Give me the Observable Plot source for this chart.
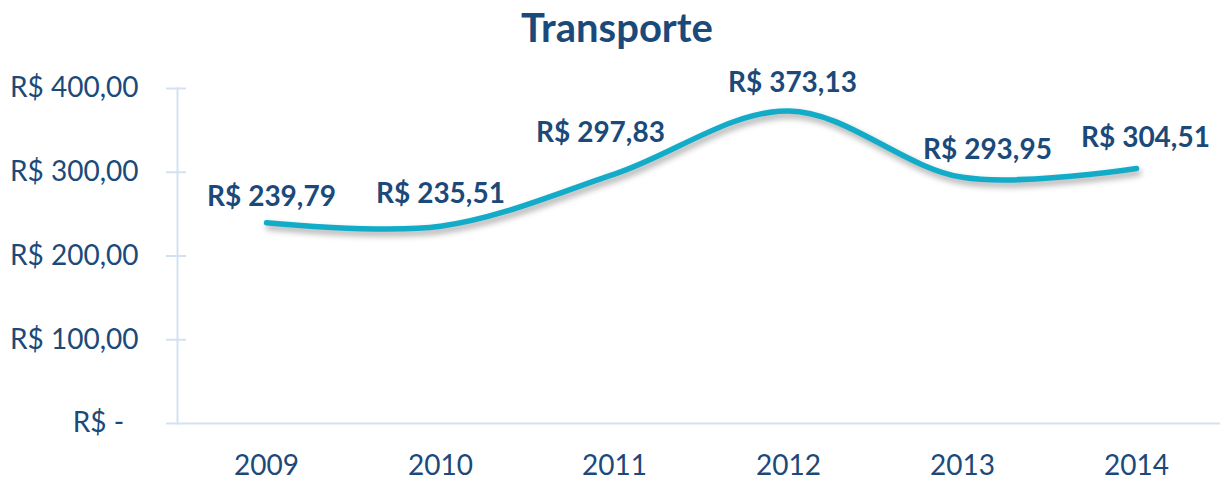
<!DOCTYPE html>
<html>
<head>
<meta charset="utf-8">
<script src="https://cdn.jsdelivr.net/npm/d3@7"></script>
<script src="https://cdn.jsdelivr.net/npm/@observablehq/plot@0.6"></script>
<style>
  html, body { margin: 0; padding: 0; background: #fff; }
  #title {
    width: 1220px; height: 55px; line-height: 55px;
    font-family: Lato, "Open Sans", sans-serif; font-weight: 700; font-size: 40px;
    color: #1B4A7A; text-align: center; box-sizing: border-box; padding-left: 14px;
  }
  g[aria-label="line"] path { filter: drop-shadow(2px 4px 3px rgba(0,0,0,0.35)); }
</style>
</head>
<body>
<div id="title">Transporte</div>
<div id="chart"></div>
<script>
const years = ["2009", "2010", "2011", "2012", "2013", "2014"];
const values = [239.79, 235.51, 297.83, 373.13, 293.95, 304.51];
const yTicks = [0, 100, 200, 300, 400];

const data = years.map((y, i) => ({year: y, value: values[i]}));
const brl = v => "R$ " + v.toFixed(2).replace(".", ",");
const yFmt = v => v === 0 ? "R$ -\u00a0\u00a0" : brl(v);

const dark = "#1B4A7A";
const axisCol = "#D5E1F2";
const labelNudge = [[5, -17], [0, -23], [-14, -32], [4, -19], [25, -18], [9, -21]];

const plot = Plot.plot({
  width: 1220,
  height: 424,
  marginTop: 33,
  marginBottom: 56,
  marginLeft: 177,
  marginRight: -4,
  style: {fontFamily: "Lato, 'Open Sans', sans-serif", color: dark, background: "#fff", overflow: "visible"},
  x: {type: "point", domain: years, padding: 0.5},
  y: {domain: [0, 400]},
  marks: [
    Plot.frame({anchor: "left", stroke: axisCol, strokeWidth: 2}),
    Plot.ruleY([0], {stroke: axisCol, strokeWidth: 2, insetLeft: -11}),
    Plot.ruleY(yTicks.filter(t => t > 0), {y: d => d, stroke: axisCol, strokeWidth: 2, insetLeft: -11, insetRight: 1038}),
    Plot.axisY({ticks: yTicks, tickSize: 0, tickPadding: 39, tickFormat: yFmt, fontSize: 28, label: null}),
    Plot.axisX({tickSize: 0, tickPadding: 32, fontSize: 28, label: null}),
    Plot.line(data, {x: "year", y: "value", curve: "catmull-rom", stroke: "#12ACC8", strokeWidth: 5.5, strokeLinecap: "round"}),
    ...data.map((d, i) => Plot.text([d], {
      x: "year", y: "value", text: d => brl(d.value),
      dx: labelNudge[i][0], dy: labelNudge[i][1], lineAnchor: "bottom",
      fontSize: 28, fontWeight: "bold", fill: dark
    }))
  ]
});
document.getElementById("chart").appendChild(plot);
</script>
</body>
</html>
